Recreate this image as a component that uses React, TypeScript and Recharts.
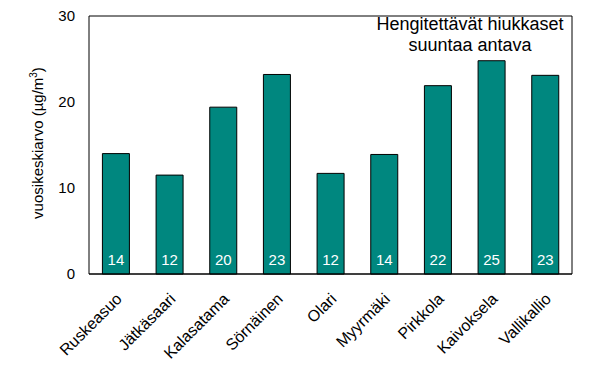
import React from "react";
import {
  BarChart, Bar, XAxis, YAxis, CartesianGrid, LabelList,
} from "recharts";

const stations = [
  "Ruskeasuo", "Jätkäsaari", "Kalasatama", "Sörnäinen", "Olari",
  "Myyrmäki", "Pirkkola", "Kaivoksela", "Vallikallio",
];
const annualMean = [14.0, 11.5, 19.4, 23.2, 11.7, 13.9, 21.9, 24.8, 23.1];
const barLabels = ["14", "12", "20", "23", "12", "14", "22", "25", "23"];
const yTicks = [0, 10, 20, 30];
const titleLines = ["Hengitettävät hiukkaset", "suuntaa antava"];

const data = stations.map((name, i) => ({
  name,
  value: annualMean[i],
  label: barLabels[i],
}));

const FONT = "'Liberation Sans', Arial, sans-serif";

const CategoryTick = (props: any) => {
  const { x, y, payload } = props;
  return (
    <g transform={`translate(${x + 3},${y + 14})`}>
      <text x={0} y={0} dy="0.35em" textAnchor="end" transform="rotate(-45)"
        fontSize={16} fontFamily={FONT} fill="#000">
        {payload.value}
      </text>
    </g>
  );
};

const YTitle = () => (
  <text x={43} y={143} transform="rotate(-90, 43, 143)" textAnchor="middle"
    fontSize={15} fontFamily={FONT} fill="#000">
    vuosikeskiarvo (µg/m<tspan dy={-6} fontSize={10}>3</tspan><tspan dy={6}>)</tspan>
  </text>
);

export default function App() {
  return (
    <div style={{ position: "absolute", left: 0, top: 0, width: 600, height: 377, background: "#fff" }}>
      <BarChart width={600} height={377} data={data}
        margin={{ top: 16, right: 27, left: 0, bottom: 0 }} barCategoryGap="25%">
        <CartesianGrid vertical={false} stroke="#000" strokeWidth={1} />
        <XAxis dataKey="name" height={103} interval={0} tick={<CategoryTick />}
          axisLine={{ stroke: "#000" }} tickLine={false} />
        <YAxis yAxisId="left" width={89} domain={[0, 30]} ticks={yTicks}
          axisLine={{ stroke: "#000" }} tickLine={false} tickSize={6} tickMargin={8}
          tick={{ fontSize: 15, fontFamily: FONT, fill: "#000" }}
          label={<YTitle />} />
        <YAxis yAxisId="right" orientation="right" width={1} domain={[0, 30]}
          axisLine={{ stroke: "#000" }} tick={false} tickLine={false} />
        <Bar yAxisId="left" dataKey="value" fill="#00877F" stroke="#000" strokeWidth={1}
          isAnimationActive={false}>
          <LabelList dataKey="label" position="insideBottom" offset={9}
            fill="#fff" fontSize={15} fontFamily={FONT} />
        </Bar>
      </BarChart>
      <div style={{
        position: "absolute", left: 360, top: 14, width: 220, textAlign: "center",
        fontFamily: FONT, fontSize: 18, lineHeight: "21px", color: "#000",
      }}>
        {titleLines.map((t) => <div key={t}>{t}</div>)}
      </div>
    </div>
  );
}
